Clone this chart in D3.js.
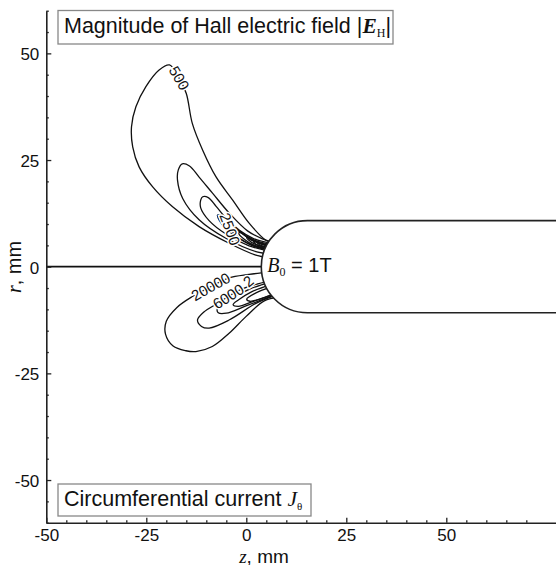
<!DOCTYPE html>
<html>
<head>
<meta charset="utf-8">
<script src="https://cdn.jsdelivr.net/npm/d3@7"></script>
<style>
body { margin: 0; background: #fff; }
svg { display: block; font-family: "Liberation Sans", Arial, sans-serif; }
</style>
</head>
<body>
<div id="chart"></div>
<script>
// axis ticks (mm)
const zTicks = [-50, -25, 0, 25, 50]
const rTicks = [-50, -25, 0, 25, 50]
const zMinor = d3.range(-50, 76, 5).filter(v => v % 25 !== 0)
const rMinor = d3.range(-60, 61, 5).filter(v => v % 25 !== 0)

// magnet: nose position and radius (mm)
const magnetNose = 3.75
const magnetRadius = 10.8

// upper half: |E_H| contours, [z, r] in mm
const hallContours = [
    [[6.1,2],[2.4,2.7],[-4.3,5.5],[-11.8,9.4],[-18.5,14.1],[-23.4,18.7],[-26.8,23.4],[-28.4,28.1],[-28.7,32.8],[-27.6,37.5],[-25.1,42.2],[-21.8,46.1],[-19.2,47.3],[-16.8,44.2],[-15.0,40.6],[-13.5,33.6],[-10.9,27.3],[-7.6,21.1],[-3.4,15.6],[0.7,10.2],[4.9,6.2],[7.1,5.4]],
    [[6.1,3.0],[2.9,3.4],[-5.0,6.6],[-11.8,11.0],[-15.9,16.0],[-17.2,20.3],[-17.0,22.7],[-16.0,24.1],[-14.2,23.6],[-11.8,21.0],[-8.5,17.3],[-4.3,12.6],[0.3,8.4],[3.9,6.6],[6.6,5.8]],
    [[6.1,3.6],[0.7,4.9],[-5.0,7.6],[-9.3,10.8],[-11.4,13.8],[-11.4,15.6],[-10.9,16.4],[-9.5,16.2],[-7.6,14.2],[-5.0,11.3],[-1.8,8.6],[1.8,6.6],[6.6,5.4]],
    [[6.1,3.8],[1.8,4.8],[-1.8,6.6],[-5.0,8.8],[-6.7,10.8],[-7.2,12.1],[-6.1,12.0],[-4.2,10.2],[-1.4,8.1],[1.8,6.3],[6.6,5.1]],
    [[6.1,3.95],[1.8,4.95],[-1.4,6.5],[-3.5,8.2],[-4.2,9.6],[-3.1,9.3],[-1.4,8.0],[1.4,6.2],[6.6,4.9]],
    [[6.1,4.05],[1.8,5.1],[-0.6,6.5],[-1.8,7.6],[-1.8,8.0],[-1.0,7.8],[1.2,6.3],[6.6,4.7]],
    [[6.1,4.15],[2.3,5.2],[0.5,6.3],[0.1,6.9],[1.2,6.6],[2.9,5.6],[6.6,4.55]],
    [[6.1,4.25],[2.4,5.3],[1.8,6.0],[2.6,5.8],[6.6,4.45]],
    [[6.1,4.3],[3.2,5.2],[2.8,5.6],[3.4,5.5],[6.6,4.4]]
]
const hallLabels = ["500", "2500"]
const hallLabelAt = [[-16.8, 44.2, 60], [-4.1, 8.8, 70]]

// lower half: J_theta contours, [z, r] in mm
const currentContours = [
    [[6.1,-1.2],[0.7,-1.8],[-4.3,-2.6],[-8.9,-4.7],[-13.5,-7.0],[-17.4,-9.6],[-20.0,-12.8],[-20.2,-15.8],[-18.3,-18.6],[-15.1,-19.7],[-12.6,-19.9],[-8.5,-18.7],[-4.3,-15.6],[-0.1,-11.7],[4.5,-8.0],[8.2,-7.2]],
    [[7.1,-3.2],[2.9,-4.0],[-1.7,-5.5],[-7.2,-8.6],[-10.6,-10.6],[-12.2,-12.5],[-11.2,-14.0],[-9.3,-14.4],[-4.3,-12.5],[2.4,-8.6],[7.1,-6.8]],
    [[6.1,-3.6],[0.7,-5.3],[-4.3,-7.8],[-7.2,-9.75],[-7.0,-10.8],[-5.0,-10.9],[-0.1,-9.2],[7.1,-6.6]],
    [[6.1,-4.2],[1.3,-5.9],[-2.0,-7.8],[-3.3,-8.9],[-2.0,-9.3],[1.8,-8.1],[7.1,-6.4]],
    [[6.1,-4.8],[2.3,-6.2],[0.1,-7.6],[0.9,-8.1],[3.9,-7.4],[7.1,-6.3]]
]
const currentLabels = ["20000", "6000", "2"]
const currentLabelAt = [[-8.9, -4.7, -29], [-4.5, -7.0, -32], [0.5, -3.4, -40]]

const width = 556
const height = 565

const svg = d3.select("#chart")
    .append("svg")
    .attr("width", width)
    .attr("height", height)

const x = d3.scaleLinear().domain([-50, 77.5]).range([46.3, 556.3])
const y = d3.scaleLinear().domain([-60, 60]).range([522.7, 10.7])

const line = d3.line()
    .x(d => x(d[0]))
    .y(d => y(d[1]))
    .curve(d3.curveCatmullRom.alpha(0.5))

// symmetry axis r = 0
svg.append("line")
    .attr("x1", x(-50)).attr("x2", x(magnetNose) + 2)
    .attr("y1", y(0)).attr("y2", y(0))
    .attr("stroke", "#111").attr("stroke-width", 1.7)

const contours = svg.append("g")
    .attr("fill", "none")
    .attr("stroke", "#111")
    .attr("stroke-width", 1.3)

contours.selectAll(".hall")
    .data(hallContours)
    .enter().append("path")
    .attr("class", "hall")
    .attr("d", line)

contours.selectAll(".current")
    .data(currentContours)
    .enter().append("path")
    .attr("class", "current")
    .attr("d", line)

// inline contour labels, white halo breaks the line
function addLabels(texts, spots) {
    svg.append("g").selectAll("text")
        .data(texts)
        .enter().append("text")
        .attr("transform", (d, i) => `translate(${x(spots[i][0])},${y(spots[i][1])}) rotate(${spots[i][2]})`)
        .attr("text-anchor", "middle")
        .attr("dy", "0.35em")
        .attr("font-size", 15)
        .attr("fill", "#111")
        .attr("stroke", "#fff")
        .attr("stroke-width", 3)
        .attr("paint-order", "stroke")
        .text(d => d)
}
addLabels(hallLabels, hallLabelAt)
addLabels(currentLabels, currentLabelAt)

// magnet body (round nose drawn circular on screen)
const mTop = y(magnetRadius), mBot = y(-magnetRadius)
const mR = y(0) - y(magnetRadius)
const mCx = x(magnetNose) + mR
svg.append("path")
    .attr("d", `M620,${mTop} L${mCx},${mTop} A${mR},${mR} 0 0 0 ${mCx},${mBot} L620,${mBot} Z`)
    .attr("fill", "#fff")
    .attr("stroke", "#222")
    .attr("stroke-width", 1.6)

const bLabel = svg.append("text")
    .attr("x", x(magnetNose) + 6).attr("y", y(0) + 5)
    .attr("font-size", 20)
    .attr("fill", "#111")
bLabel.append("tspan").attr("font-family", "'Liberation Serif', 'Times New Roman', serif").attr("font-style", "italic").text("B")
bLabel.append("tspan").attr("font-family", "'Liberation Serif', serif").attr("font-size", 12).attr("dy", 4).text("0")
bLabel.append("tspan").attr("dy", -4).text(" = 1T")

// axes
function styleAxis(g) {
    g.attr("font-family", null).attr("font-size", 17)
    g.select(".domain").attr("stroke", "#222").attr("stroke-width", 1.6)
    g.selectAll(".tick line").attr("stroke", "#222").attr("stroke-width", 1.3)
    g.selectAll(".tick text").attr("fill", "#111")
}
const fmt = d => String(d)

svg.append("g")
    .attr("transform", `translate(0,${y(-60)})`)
    .call(d3.axisBottom(x).tickValues(zMinor).tickSize(-2.5).tickSizeOuter(0).tickFormat(""))
    .call(styleAxis)
    .call(g => g.select(".domain").remove())
svg.append("g")
    .attr("transform", `translate(${x(-50)},0)`)
    .call(d3.axisLeft(y).tickValues(rMinor).tickSize(-2.5).tickSizeOuter(0).tickFormat(""))
    .call(styleAxis)
    .call(g => g.select(".domain").remove())

svg.append("g")
    .attr("transform", `translate(0,${y(-60)})`)
    .call(d3.axisBottom(x).tickValues(zTicks).tickSize(-5).tickSizeOuter(0).tickPadding(6.5).tickFormat(fmt))
    .call(styleAxis)
svg.append("g")
    .attr("transform", `translate(${x(-50)},0)`)
    .call(d3.axisLeft(y).tickValues(rTicks).tickSize(-5).tickSizeOuter(0).tickPadding(7).tickFormat(fmt))
    .call(styleAxis)
    .call(g => g.selectAll(".tick text").attr("dy", "0.38em"))

// axis titles
const zTitle = svg.append("text")
    .attr("x", 264).attr("y", 562.5)
    .attr("text-anchor", "middle")
    .attr("font-size", 19)
    .attr("fill", "#111")
zTitle.append("tspan").attr("font-family", "'Liberation Serif', serif").attr("font-style", "italic").text("z")
zTitle.append("tspan").text(", mm")

const rTitle = svg.append("text")
    .attr("transform", "translate(21,267) rotate(-90)")
    .attr("text-anchor", "middle")
    .attr("font-size", 20)
    .attr("fill", "#111")
rTitle.append("tspan").attr("font-family", "'Liberation Serif', serif").attr("font-style", "italic").text("r")
rTitle.append("tspan").text(", mm")

// title boxes
svg.append("rect")
    .attr("x", 58).attr("y", 10.5).attr("width", 335).attr("height", 33.5)
    .attr("fill", "#fff").attr("stroke", "#888").attr("stroke-width", 1.3)
const t1 = svg.append("text")
    .attr("x", 64).attr("y", 32.5)
    .attr("font-size", 21.5)
    .attr("fill", "#111")
t1.append("tspan").text("Magnitude of Hall electric field |")
t1.append("tspan").attr("font-family", "'Liberation Serif', serif").attr("font-style", "italic").attr("font-weight", "bold").text("E")
t1.append("tspan").attr("font-family", "'Liberation Serif', serif").attr("font-size", 12).attr("dy", 4).text("H")
t1.append("tspan").attr("dy", -4).text("|")

svg.append("rect")
    .attr("x", 58).attr("y", 484).attr("width", 253).attr("height", 32)
    .attr("fill", "#fff").attr("stroke", "#888").attr("stroke-width", 1.3)
const t2 = svg.append("text")
    .attr("x", 64).attr("y", 505.5)
    .attr("font-size", 21.5)
    .attr("fill", "#111")
t2.append("tspan").text("Circumferential current ")
t2.append("tspan").attr("font-family", "'Liberation Serif', serif").attr("font-style", "italic").text("J")
t2.append("tspan").attr("font-family", "'Liberation Serif', serif").attr("font-size", 11).attr("dy", 4).text("θ")
</script>
</body>
</html>
